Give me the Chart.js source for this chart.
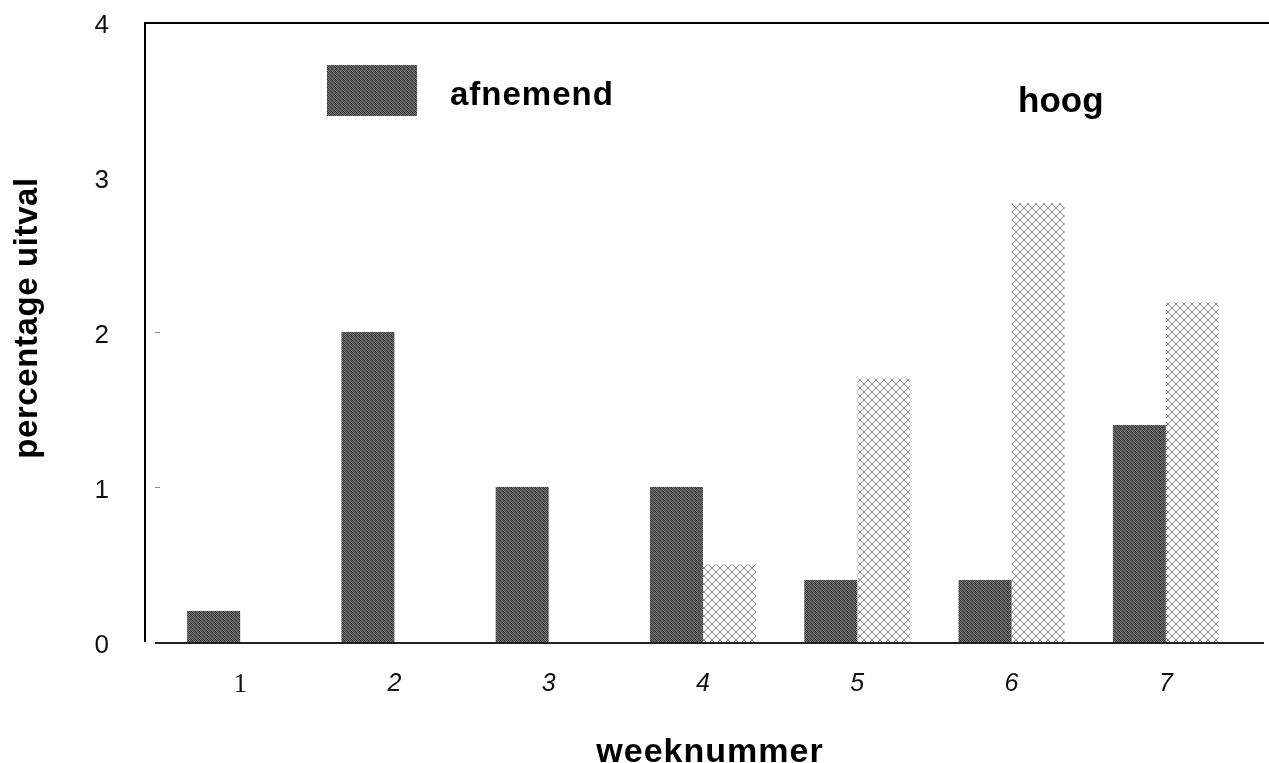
<!DOCTYPE html>
<html>
<head>
<meta charset="utf-8">
<script src="https://cdn.jsdelivr.net/npm/chart.js@4.4.1/dist/chart.umd.min.js"></script>
<style>
	body { margin: 0; background: #fff; }
	#myChart { display: block; }
</style>
</head>
<body>
<canvas id="myChart" width="1269" height="763"></canvas>
<script>
// data
const weeks = ["1", "2", "3", "4", "5", "6", "7"];
const afnemend = [0.2, 2.0, 1.0, 1.0, 0.4, 0.4, 1.4];
const hoog = [null, null, null, 0.5, 1.7, 2.83, 2.19];
const yTicks = [0, 1, 2, 3, 4];
const seriesNames = ["afnemend", "hoog"];
const axisNames = ["weeknummer", "percentage uitval"];

const sans = "'Liberation Sans', Arial, Helvetica, sans-serif";
const serif = "'Liberation Serif', 'Times New Roman', serif";

// dark stipple fill
const makeDark = () => {
	const grid = [
		[0x33, 0x77, 0x44, 0x66],
		[0x6a, 0x3a, 0x80, 0x40],
		[0x48, 0x70, 0x38, 0x74],
		[0x7c, 0x42, 0x68, 0x30],
	];
	const c = document.createElement("canvas");
	c.width = 4;
	c.height = 4;
	const g = c.getContext("2d");
	const img = g.createImageData(4, 4);
	for (let y = 0; y < 4; y++) {
		for (let x = 0; x < 4; x++) {
			const i = (y * 4 + x) * 4;
			img.data[i] = img.data[i + 1] = img.data[i + 2] = grid[y][x];
			img.data[i + 3] = 255;
		}
	}
	g.putImageData(img, 0, 0);
	return g.createPattern(c, "repeat");
};

// light cross hatch fill
const makeLight = () => {
	const n = 8;
	const c = document.createElement("canvas");
	c.width = n;
	c.height = n;
	const g = c.getContext("2d");
	const img = g.createImageData(n, n);
	for (let y = 0; y < n; y++) {
		for (let x = 0; x < n; x++) {
			const i = (y * n + x) * 4;
			let v = 246;
			if (x === y || x === n - 1 - y) v = 140;
			img.data[i] = img.data[i + 1] = img.data[i + 2] = v;
			img.data[i + 3] = 255;
		}
	}
	g.putImageData(img, 0, 0);
	return g.createPattern(c, "repeat");
};

const darkFill = makeDark();
const lightFill = makeLight();

const frame = {
	id: "frame",
	afterDraw(chart) {
		const ctx = chart.ctx;
		const area = chart.chartArea;
		const yScale = chart.scales.y;
		const axisX = area.left - 18;
		ctx.save();
		// axes and top rule
		ctx.strokeStyle = "#000";
		ctx.lineWidth = 2;
		ctx.beginPath();
		ctx.moveTo(axisX, area.top);
		ctx.lineTo(axisX, area.bottom);
		ctx.stroke();
		ctx.beginPath();
		ctx.moveTo(axisX, area.top + 1);
		ctx.lineTo(chart.width, area.top + 1);
		ctx.stroke();
		ctx.strokeStyle = "#222";
		ctx.beginPath();
		ctx.moveTo(axisX + 10, area.bottom + 1);
		ctx.lineTo(chart.width - 5, area.bottom + 1);
		ctx.stroke();
		// little tick marks
		ctx.strokeStyle = "#888";
		ctx.lineWidth = 1;
		[1, 2].forEach((v) => {
			const y = Math.round(yScale.getPixelForValue(v)) + 0.5;
			ctx.beginPath();
			ctx.moveTo(axisX + 10, y);
			ctx.lineTo(axisX + 15, y);
			ctx.stroke();
		});
		// legend
		ctx.fillStyle = darkFill;
		ctx.fillRect(327, 65, 90, 51);
		ctx.fillStyle = "#000";
		ctx.textAlign = "left";
		ctx.textBaseline = "alphabetic";
		ctx.font = "bold 33px " + sans;
		ctx.letterSpacing = "1px";
		ctx.fillText(seriesNames[0], 450, 105);
		ctx.font = "bold 35px " + sans;
		ctx.letterSpacing = "0px";
		ctx.fillText(seriesNames[1], 1018, 112);
		// axis titles
		ctx.textAlign = "center";
		ctx.font = "bold 34px " + sans;
		ctx.letterSpacing = "1px";
		ctx.fillText(axisNames[0], 710, 762);
		ctx.translate(37, 318);
		ctx.rotate(-Math.PI / 2);
		ctx.font = "bold 33px " + sans;
		ctx.letterSpacing = "0.6px";
		ctx.fillText(axisNames[1], 0, 0);
		ctx.restore();
	},
};

const data = {
	labels: weeks,
	datasets: [
		{
			label: seriesNames[0],
			data: afnemend,
			backgroundColor: darkFill,
			borderWidth: 0,
		},
		{
			label: seriesNames[1],
			data: hoog,
			backgroundColor: lightFill,
			borderWidth: 0,
		},
	],
};

const config = {
	type: "bar",
	data,
	options: {
		responsive: false,
		devicePixelRatio: 1,
		animation: false,
		categoryPercentage: 0.687,
		barPercentage: 1,
		layout: { padding: { top: 22, right: 26, left: 0, bottom: 0 } },
		plugins: { legend: { display: false }, tooltip: { enabled: false } },
		scales: {
			x: {
				grid: { display: false },
				border: { display: false },
				ticks: {
					color: "#111",
					padding: 19,
					maxRotation: 0,
					font: (c) =>
						c.index === 0
							? { family: serif, size: 27, style: "normal" }
							: { family: sans, size: 25, style: "italic" },
				},
				afterFit: (scale) => {
					scale.height = 121;
				},
			},
			y: {
				min: 0,
				max: 4,
				grid: { display: false },
				border: { display: false },
				afterBuildTicks: (scale) => {
					scale.ticks = yTicks.map((v) => ({ value: v }));
				},
				ticks: {
					color: "#111",
					padding: 46,
					labelOffset: 4,
					font: { family: sans, size: 26 },
				},
				afterFit: (scale) => {
					// the big tick padding would otherwise push the plot down
					scale.width = 163;
					scale.paddingTop = 0;
					scale.paddingBottom = 0;
				},
			},
		},
	},
	plugins: [frame],
};

const myChart = new Chart(document.getElementById("myChart"), config);
</script>
</body>
</html>
